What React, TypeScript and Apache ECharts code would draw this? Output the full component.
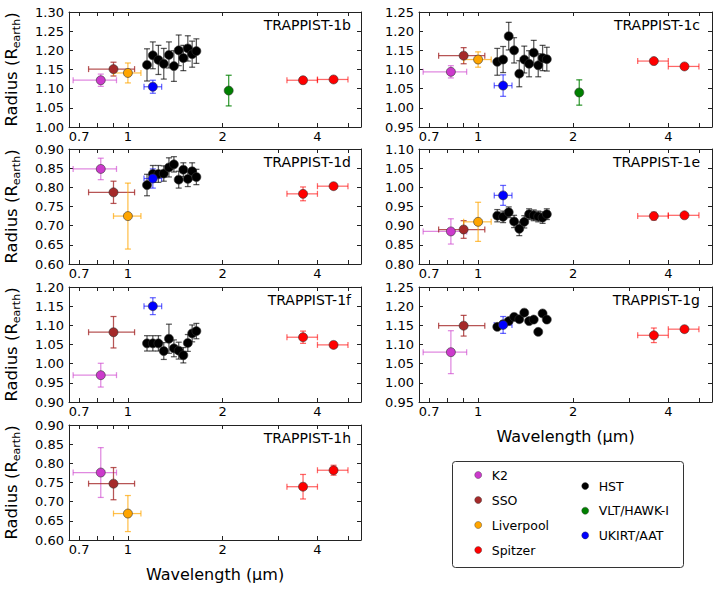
import React, { useEffect, useRef } from 'react';
import * as echarts from 'echarts';

const FONT = 'DejaVu Sans';

// ---- panels ----
const panelNames = ['TRAPPIST-1b', 'TRAPPIST-1c', 'TRAPPIST-1d', 'TRAPPIST-1e', 'TRAPPIST-1f', 'TRAPPIST-1g', 'TRAPPIST-1h'];
const yMinValues = [1.0, 0.95, 0.6, 0.8, 0.9, 0.95, 0.6];
const yMaxValues = [1.3, 1.25, 0.9, 1.1, 1.2, 1.25, 0.9];
const xTickValues = [0.7, 0.8, 0.9, 1, 2, 3, 4, 5];
const xLabelValues = [0.7, 1, 2, 4];

// ---- instrument bands: [centre, low, high] in micron ----
const k2Band = [0.82, 0.67, 0.92];
const ssoBand = [0.9, 0.75, 1.05];
const liverpoolBand = [1.0, 0.9, 1.1];
const spitzer1Band = [3.6, 3.2, 4.0];
const spitzer2Band = [4.5, 4.0, 5.0];
const vltBand = [2.09, 2.09, 2.09];
const ukirtBand = [1.2, 1.125, 1.28];
const hstWave = [1.15, 1.2, 1.25, 1.3, 1.35, 1.4, 1.45, 1.5, 1.55, 1.6, 1.65];

// ---- radii per planet (b, c, d, e, f, g, h) ----
const k2Radius = [1.122, 1.094, 0.848, 0.885, 0.97, 1.08, 0.776];
const k2Err = [0.016, 0.016, 0.028, 0.033, 0.031, 0.056, 0.065];
const ssoRadius = [1.151, 1.136, 0.787, 0.89, 1.082, 1.149, 0.747];
const ssoErr = [0.018, 0.021, 0.029, 0.023, 0.041, 0.027, 0.042];
const liverpoolRadius = [1.141, 1.126, 0.725, 0.91, null, null, 0.669];
const liverpoolErr = [0.026, 0.02, 0.086, 0.051, null, null, 0.047];
const spitzer1Radius = [1.122, 1.122, 0.783, 0.925, 1.069, 1.124, 0.739];
const spitzer1Err = [0.004, 0.005, 0.018, 0.01, 0.016, 0.019, 0.032];
const spitzer2Radius = [1.124, 1.108, 0.803, 0.927, 1.049, 1.14, 0.782];
const spitzer2Err = [0.004, 0.005, 0.005, 0.006, 0.006, 0.006, 0.013];
const vltRadius = [1.095, 1.04, null, null, null, null, null];
const vltErr = [0.04, 0.033, null, null, null, null, null];
const ukirtRadius = [1.105, 1.058, 0.823, 0.979, 1.15, 1.151, null];
const ukirtErr = [0.017, 0.028, 0.025, 0.026, 0.022, 0.022, null];

const hstRadiusB = [1.162, 1.187, 1.175, 1.165, 1.188, 1.159, 1.2, 1.18, 1.205, 1.19, 1.198];
const hstErrB = [0.042, 0.035, 0.038, 0.04, 0.034, 0.04, 0.04, 0.033, 0.033, 0.034, 0.032];
const hstRadiusC = [1.12, 1.126, 1.187, 1.15, 1.089, 1.126, 1.115, 1.144, 1.111, 1.13, 1.127];
const hstErrC = [0.035, 0.034, 0.036, 0.033, 0.034, 0.035, 0.034, 0.032, 0.03, 0.033, 0.031];
const hstRadiusD = [0.806, 0.835, 0.835, 0.836, 0.852, 0.86, 0.82, 0.846, 0.822, 0.842, 0.827];
const hstErrD = [0.028, 0.022, 0.022, 0.02, 0.025, 0.02, 0.022, 0.018, 0.02, 0.022, 0.02];
const hstRadiusE = [0.926, 0.923, 0.935, 0.911, 0.892, 0.91, 0.93, 0.927, 0.924, 0.921, 0.93];
const hstErrE = [0.016, 0.015, 0.014, 0.016, 0.018, 0.016, 0.014, 0.014, 0.014, 0.015, 0.014];
const hstRadiusF = [1.053, 1.053, 1.053, 1.033, 1.065, 1.04, 1.034, 1.022, 1.054, 1.079, 1.085];
const hstErrF = [0.02, 0.02, 0.02, 0.022, 0.038, 0.022, 0.022, 0.02, 0.022, 0.022, 0.02];
const hstRadiusG = [1.146, 1.153, 1.161, 1.172, 1.166, 1.183, 1.161, 1.165, 1.133, 1.181, 1.165];
const hstErrG = [0.005, 0.005, 0.005, 0.005, 0.005, 0.005, 0.005, 0.005, 0.005, 0.005, 0.005];
const hstRadiusByPanel = [hstRadiusB, hstRadiusC, hstRadiusD, hstRadiusE, hstRadiusF, hstRadiusG, null];
const hstErrByPanel = [hstErrB, hstErrC, hstErrD, hstErrE, hstErrF, hstErrG, null];

// ---- legend ----
const legendLeft = ['K2', 'SSO', 'Liverpool', 'Spitzer'];
const legendRight = ['HST', 'VLT/HAWK-I', 'UKIRT/AAT'];

// ---- layout ----
const colLeft = [69, 419];
const colWidth = [292, 293];
const rowTop = [12, 149, 287, 425];
const gridHeight = 115;

const makeErrorRender = (color: string) => (params: any, api: any) => {
  const x = api.value(0);
  const y = api.value(1);
  const xlo = api.value(2);
  const xhi = api.value(3);
  const ylo = api.value(4);
  const yhi = api.value(5);
  const pl = api.coord([xlo, y]);
  const ph = api.coord([xhi, y]);
  const pb = api.coord([x, ylo]);
  const pt = api.coord([x, yhi]);
  const cap = 3;
  const ln = (x1: number, y1: number, x2: number, y2: number) => ({
    type: 'line',
    shape: { x1, y1, x2, y2 },
    style: { stroke: color, lineWidth: 1.25, fill: null },
  });
  const children: any[] = [];
  if (xhi > xlo) {
    children.push(ln(pl[0], pl[1], ph[0], ph[1]));
    children.push(ln(pl[0], pl[1] - cap, pl[0], pl[1] + cap));
    children.push(ln(ph[0], ph[1] - cap, ph[0], ph[1] + cap));
  }
  if (yhi > ylo) {
    children.push(ln(pb[0], pb[1], pt[0], pt[1]));
    children.push(ln(pb[0] - cap, pb[1], pb[0] + cap, pb[1]));
    children.push(ln(pt[0] - cap, pt[1], pt[0] + cap, pt[1]));
  }
  return { type: 'group', children };
};

function buildOption() {
  const grid: any[] = [];
  const xAxis: any[] = [];
  const yAxis: any[] = [];
  const title: any[] = [];
  const series: any[] = [];
  const axisColor = '#222';

  panelNames.forEach((name, i) => {
    const col = i % 2;
    const row = Math.floor(i / 2);
    grid.push({ left: colLeft[col], top: rowTop[row], width: colWidth[col], height: gridHeight, outerBoundsMode: 'none' });
    const showXName = i === 5 || i === 6;
    xAxis.push({
      type: 'log', logBase: 10, min: 0.65, max: 5.5, gridIndex: i, position: 'bottom',
      axisLine: { show: true, onZero: false, lineStyle: { color: axisColor, width: 1 } },
      axisTick: { show: true, inside: true, length: 4, customValues: xTickValues, lineStyle: { color: axisColor } },
      axisLabel: {
        show: true, customValues: xLabelValues, fontSize: 13, color: '#000', fontFamily: FONT, margin: 3,
        formatter: (v: number) => String(Math.round(v * 10) / 10),
      },
      splitLine: { show: false },
      minorTick: { show: false },
      name: showXName ? 'Wavelength (µm)' : '',
      nameLocation: 'middle', nameGap: 26,
      nameTextStyle: { fontSize: 16, color: '#000', fontFamily: FONT },
    });
    xAxis.push({
      type: 'log', logBase: 10, min: 0.65, max: 5.5, gridIndex: i, position: 'top',
      axisLine: { show: true, onZero: false, lineStyle: { color: axisColor, width: 1 } },
      axisTick: { show: true, inside: true, length: 4, customValues: xTickValues, lineStyle: { color: axisColor } },
      axisLabel: { show: false },
      splitLine: { show: false },
    });
    const showYName = col === 0;
    yAxis.push({
      type: 'value', min: yMinValues[i], max: yMaxValues[i], interval: 0.05, gridIndex: i, position: 'left',
      axisLine: { show: true, onZero: false, lineStyle: { color: axisColor, width: 1 } },
      axisTick: { show: true, inside: true, length: 4, lineStyle: { color: axisColor } },
      axisLabel: { fontSize: 13, color: '#000', fontFamily: FONT, margin: 5, formatter: (v: number) => v.toFixed(2) },
      splitLine: { show: false },
      name: showYName ? 'Radius (R{sub|earth})' : '',
      nameLocation: 'middle', nameGap: 49, nameRotate: 90,
      nameTextStyle: {
        fontSize: 16.5, color: '#000', fontFamily: FONT,
        rich: { sub: { fontSize: 11, color: '#000', fontFamily: FONT, verticalAlign: 'bottom', padding: [0, 0, -2, 0] } },
      },
    });
    yAxis.push({
      type: 'value', min: yMinValues[i], max: yMaxValues[i], interval: 0.05, gridIndex: i, position: 'right',
      axisLine: { show: true, onZero: false, lineStyle: { color: axisColor, width: 1 } },
      axisTick: { show: true, inside: true, length: 4, lineStyle: { color: axisColor } },
      axisLabel: { show: false },
      splitLine: { show: false },
    });
    title.push({
      text: name,
      right: col === 0 ? 717 - 351 : 717 - 700,
      top: rowTop[row] + 6,
      padding: 0,
      textStyle: { fontSize: 14, fontWeight: 'normal', color: '#000', fontFamily: FONT },
    });

    const add = (sname: string, color: string, errColor: string, pts: number[][]) => {
      if (!pts.length) return;
      series.push({
        type: 'custom', name: sname + ' error', xAxisIndex: 2 * i, yAxisIndex: 2 * i, silent: true,
        renderItem: makeErrorRender(errColor),
        encode: { x: [0, 2, 3], y: [1, 4, 5] },
        data: pts,
      });
      series.push({
        type: 'scatter', name: sname, xAxisIndex: 2 * i, yAxisIndex: 2 * i, silent: true,
        symbol: 'circle', symbolSize: 9,
        itemStyle: { color, borderColor: '#333', borderWidth: 0.6, opacity: 1 },
        data: pts.map((p) => [p[0], p[1]]),
      });
    };
    const bandPoint = (band: number[], r: number | null, e: number | null) =>
      r == null || e == null ? [] : [[band[0], r, band[1], band[2], r - e, r + e]];

    add('K2', '#cc3acc', 'rgba(204,58,204,0.6)', bandPoint(k2Band, k2Radius[i], k2Err[i]));
    add('SSO', '#a52a2a', 'rgba(165,42,42,0.8)', bandPoint(ssoBand, ssoRadius[i], ssoErr[i]));
    add('Liverpool', '#ffa500', 'rgba(255,165,0,0.7)', bandPoint(liverpoolBand, liverpoolRadius[i], liverpoolErr[i]));
    add('Spitzer', '#ff0000', 'rgba(255,0,0,0.6)', [
      ...bandPoint(spitzer1Band, spitzer1Radius[i], spitzer1Err[i]),
      ...bandPoint(spitzer2Band, spitzer2Radius[i], spitzer2Err[i]),
    ]);
    const hr = hstRadiusByPanel[i];
    const he = hstErrByPanel[i];
    add('HST', '#000000', 'rgba(0,0,0,0.65)',
      hr && he ? hstWave.map((w, k) => [w, hr[k], w, w, hr[k] - he[k], hr[k] + he[k]]) : []);
    add('VLT/HAWK-I', '#008000', 'rgba(0,128,0,0.8)', bandPoint(vltBand, vltRadius[i], vltErr[i]));
    add('UKIRT/AAT', '#0000ff', 'rgba(0,0,255,0.6)', bandPoint(ukirtBand, ukirtRadius[i], ukirtErr[i]));
  });

  const legendText = { fontSize: 12.5, lineHeight: 14, color: '#000', fontFamily: FONT, padding: [0, 0, 0, 5] };

  return {
    animation: false,
    backgroundColor: '#fff',
    grid, xAxis, yAxis, title, series,
    legend: [
      {
        data: legendLeft, orient: 'vertical', left: 474.5, top: 468, padding: 0,
        itemWidth: 7, itemHeight: 7, itemGap: 11, icon: 'circle', selectedMode: false, textStyle: legendText,
        itemStyle: { borderWidth: 0.4 },
      },
      {
        data: legendRight, orient: 'vertical', left: 581.5, top: 479, padding: 0,
        itemWidth: 7, itemHeight: 7, itemGap: 10.7, icon: 'circle', selectedMode: false, textStyle: legendText,
        itemStyle: { borderWidth: 0.4 },
      },
    ],
    graphic: [
      {
        type: 'rect', z: 0,
        shape: { x: 452.5, y: 461.5, width: 231, height: 106, r: 3 },
        style: { fill: '#fff', stroke: '#333', lineWidth: 1 },
      },
    ],
  };
}

export default function App() {
  const ref = useRef<HTMLDivElement>(null);
  useEffect(() => {
    if (!ref.current) return;
    const chart = echarts.init(ref.current, undefined, { renderer: 'svg' });
    chart.setOption(buildOption() as any);
    return () => chart.dispose();
  }, []);
  return (
    <div
      ref={ref}
      style={{ position: 'absolute', left: 0, top: 0, width: 717, height: 589, background: '#fff' }}
    />
  );
}
